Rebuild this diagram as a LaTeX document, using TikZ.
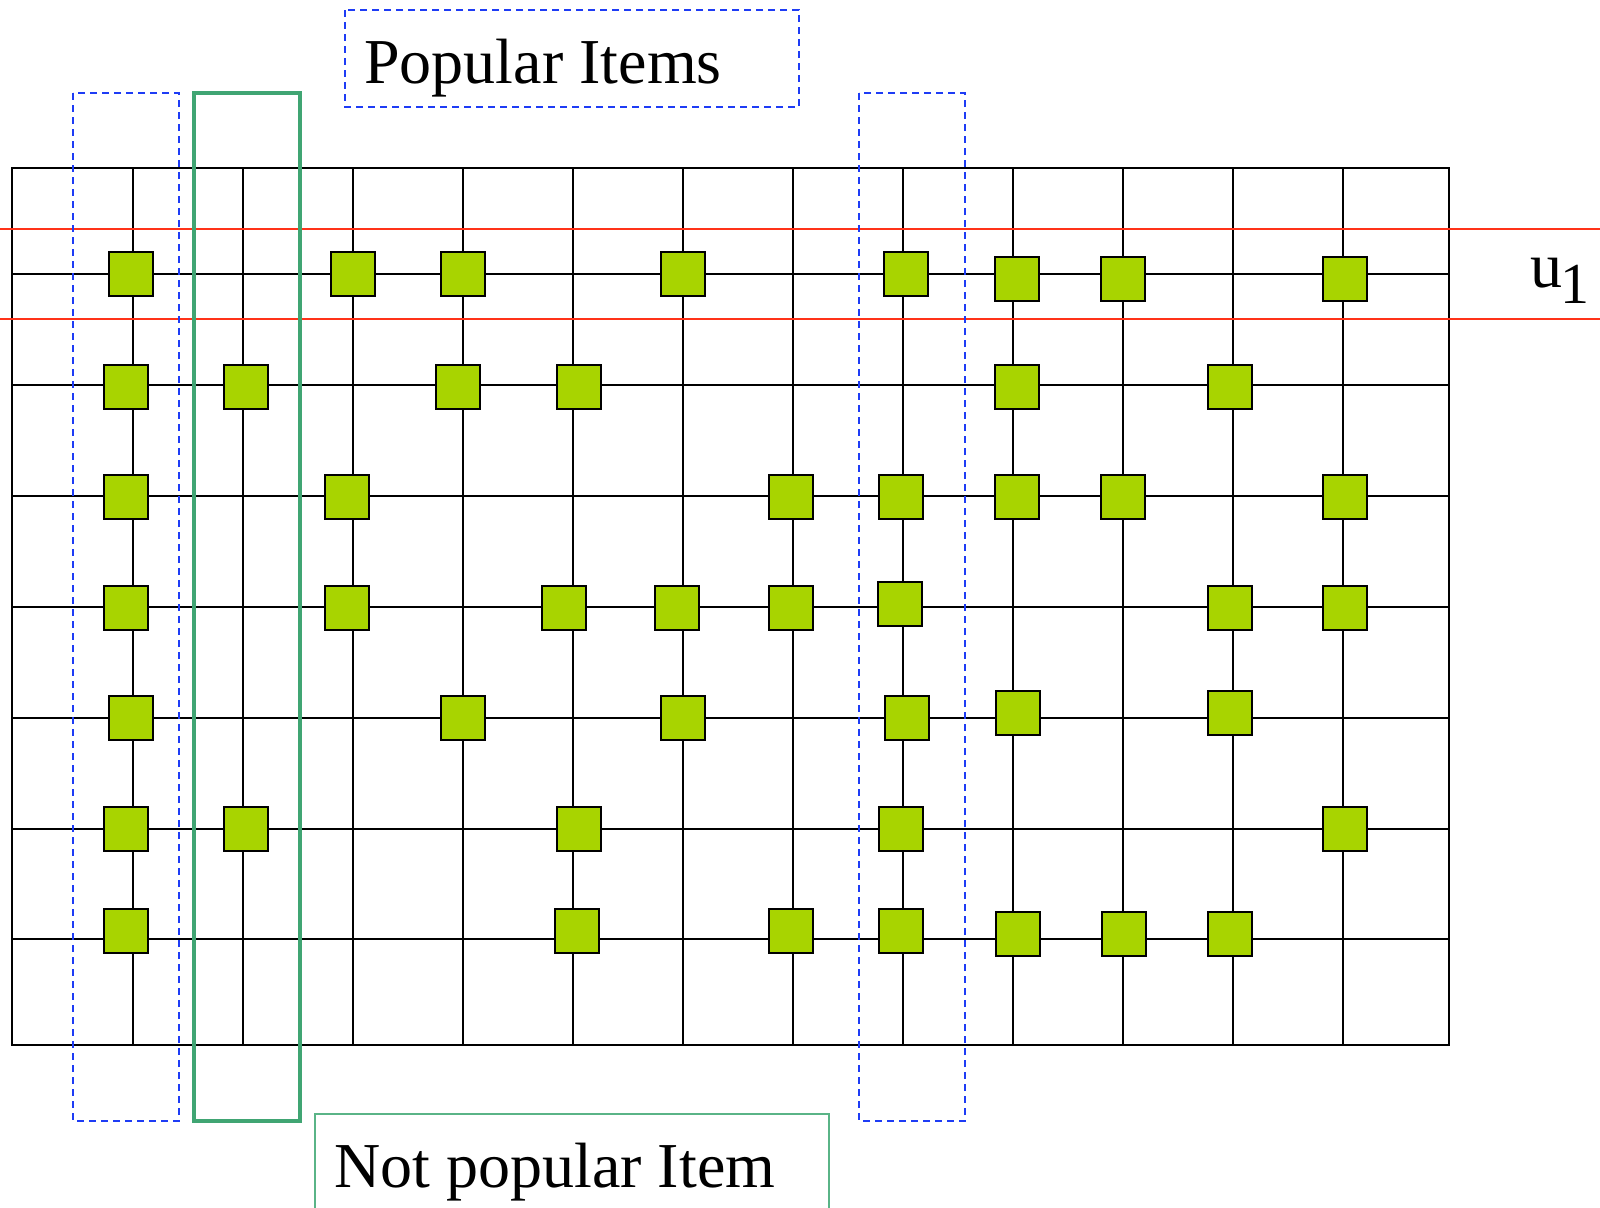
\documentclass[tikz,border=0pt]{standalone}
\usepackage{fontspec}
\setmainfont{Liberation Serif}
\definecolor{sqgreen}{RGB}{168,212,0}
\definecolor{boxblue}{RGB}{30,60,245}
\definecolor{boxgreen}{RGB}{64,165,115}
\definecolor{boxgreenlight}{RGB}{90,180,135}
\definecolor{ured}{RGB}{255,50,25}
\begin{document}
\begin{tikzpicture}[x=0.5pt,y=-0.5pt,
  item/.style={draw=black,line width=1pt,fill=sqgreen,minimum size=22pt,inner sep=0pt,outer sep=0pt},
  gridline/.style={line width=1pt,black},
  userline/.style={ured,line width=0.75pt},
  popbox/.style={boxblue,dash pattern=on 3.5pt off 2.5pt,line width=0.8pt},
  unpopbox/.style={boxgreen,line width=1.6pt},
  unpoplabel/.style={boxgreenlight,line width=0.8pt},
  lbl/.style={font=\fontsize{32}{38}\selectfont,inner sep=0pt,anchor=base west}]
\useasboundingbox (0,0) rectangle (1600,1207);
% grid
\draw[gridline] (12,168) rectangle (1449,1045);
\foreach \x in {133,243,...,1343} \draw[gridline] (\x,168) -- (\x,1045);
\foreach \y in {274,385,496,607,718,829,939} \draw[gridline] (12,\y) -- (1449,\y);
% user row lines
\draw[userline] (0,229) -- (1600,229);
\draw[userline] (0,319) -- (1600,319);
% squares
\foreach \x/\y [count=\i] in {
  131/274, 353/274, 463/274, 683/274, 906/274, 1017/279, 1123/279, 1345/279,
  126/387, 246/387, 458/387, 579/387, 1017/387, 1230/387,
  126/497, 347/497, 791/497, 901/497, 1017/497, 1123/497, 1345/497,
  126/608, 347/608, 564/608, 677/608, 791/608, 900/604, 1230/608, 1345/608,
  131/718, 463/718, 683/718, 907/718, 1018/713, 1230/713,
  126/829, 246/829, 579/829, 901/829, 1345/829,
  126/931, 577/931, 791/931, 901/931, 1018/934, 1124/934, 1230/934}
  \node[item] (s\i) at (\x,\y) {};
% boxes
\draw[popbox] (73,93) rectangle (179,1121);
\draw[popbox] (859,93) rectangle (965,1121);
\draw[popbox] (345,10) rectangle (799,107);
\draw[unpopbox] (194,93) rectangle (300,1121);
\draw[unpoplabel] (315,1210) -- (315,1114) -- (829,1114) -- (829,1210);
% labels
\node[lbl] (pop) at (364,83) {Popular Items};
\node[lbl] (notpop) at (334,1187) {Not popular Item};
\node[lbl] (u1) at (1530,287) {u\kern-1pt\raisebox{-8pt}{\fontsize{29}{34}\selectfont 1}};
\end{tikzpicture}
\end{document}
